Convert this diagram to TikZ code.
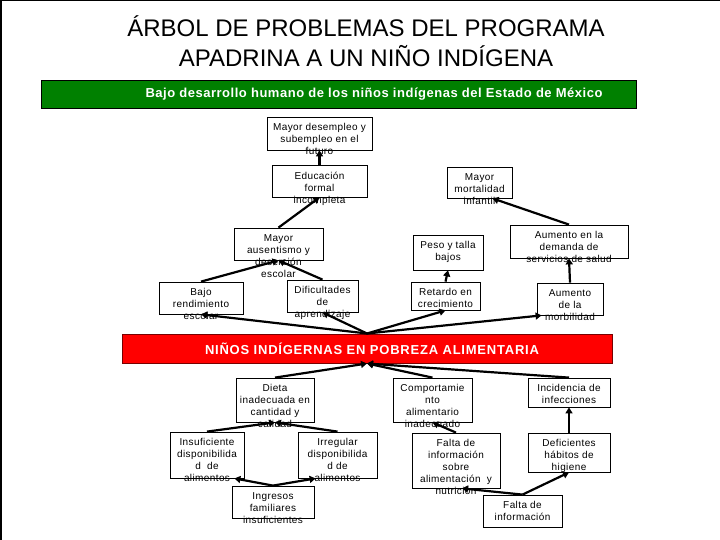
\documentclass[tikz,border=0pt]{standalone}
\usepackage{fontspec}
\setmainfont{Liberation Sans}
\usetikzlibrary{arrows.meta,calc}
\definecolor{bargreen}{RGB}{0,128,0}
\definecolor{barred}{RGB}{255,0,0}
\definecolor{barredline}{RGB}{120,0,0}
\tikzset{
  pbox/.style={draw=black, line width=0.8pt, inner sep=0pt, fill=white},
  ptext/.style={anchor=north, align=center, inner sep=0pt, font=\fontsize{10}{12}\selectfont\addfontfeature{LetterSpace=4}},
  conn/.style={line width=2.2pt, -{Triangle[length=6pt,width=7pt]}},
  bartext/.style={inner sep=0pt, text=white, font=\fontsize{13}{15}\selectfont\bfseries},
}
\newcommand\pbx[6]{%
  \node[pbox, minimum width={(#4-#2)*1pt}, minimum height={(#5-#3)*1pt}] (#1) at ({(#2+#4)/2},{(#3+#5)/2}) {};
  \node[ptext] (#1t) at ({(#2+#4)/2},{#3+6.5}) {#6};
}
\begin{document}
\begin{tikzpicture}[x=1pt,y=-1pt]
\useasboundingbox (0,0) rectangle (720,540);
\draw[line width=1.5pt] (0.75,540) -- (0.75,0.75) -- (720,0.75);
% title
\node[align=center, inner sep=0pt, font=\fontsize{24}{30}\selectfont] (title) at (366,41) {ÁRBOL DE PROBLEMAS DEL PROGRAMA\\APADRINA A UN NIÑO INDÍGENA};
% green bar
\node[draw=black, line width=0.8pt, fill=bargreen, minimum width=595pt, minimum height=28pt, inner sep=0pt] (effect) at (338.5,94) {};
\node[bartext] (effectt) at (374,94) {\addfontfeature{LetterSpace=4}Bajo desarrollo humano de los niños indígenas del Estado de México};
% red bar
\node[draw=barredline, line width=1pt, fill=barred, minimum width=490pt, minimum height=29pt, inner sep=0pt] (core) at (367,348.5) {};
\node[bartext] (coret) at (372,348.5) {\addfontfeature{LetterSpace=6}NIÑOS INDÍGERNAS EN POBREZA ALIMENTARIA};
% boxes
\pbx{desemp}{267}{117}{372}{150}{Mayor desempleo y\\subempleo en el\\futuro}
\pbx{educ}{272}{165}{367}{197}{Educación\\formal\\incompleta}
\pbx{ausent}{234}{228}{323}{260}{Mayor\\ausentismo y\\deserción\\escolar}
\pbx{bajo}{159}{282}{243}{314}{Bajo\\rendimiento\\escolar}
\pbx{dific}{287}{280}{358}{312}{Dificultades\\de\\aprendizaje}
\pbx{mort}{447}{167}{512}{198}{Mayor\\mortalidad\\infantil}
\pbx{demanda}{510}{225}{628}{258}{Aumento en la\\demanda de\\servicios de salud}
\pbx{peso}{413}{235}{483}{270}{Peso y talla\\bajos}
\pbx{retardo}{411}{282}{480}{310}{Retardo en\\crecimiento}
\pbx{morb}{537}{283}{603}{315}{Aumento\\de la\\morbilidad}
\pbx{dieta}{236}{378}{314}{422}{Dieta\\inadecuada en\\cantidad y\\calidad}
\pbx{comp}{393}{378}{472}{422}{Comportamie\\nto\\alimentario\\inadecuado}
\pbx{incid}{528}{378}{610}{407}{Incidencia de\\infecciones}
\pbx{insuf}{170}{432}{244}{478}{Insuficiente\\disponibilida\\d\ \ de\\alimentos}
\pbx{irreg}{298}{432}{377}{478}{Irregular\\disponibilida\\d de\\alimentos}
\pbx{ingresos}{232}{486}{314}{518}{Ingresos\\familiares\\insuficientes}
\pbx{faltas}{412}{433}{500}{488}{Falta de\\información\\sobre\\alimentación\ \ y\\nutrición}
\pbx{defic}{528}{433}{610}{472}{Deficientes\\hábitos de\\higiene}
\pbx{faltab}{483}{495}{562}{527}{Falta de\\información}
% connectors
\draw[conn] (educ.north) -- (desemp.south);
\draw[conn] (ausent.north) -- (educ.south);
\draw[conn] (bajo.north) -- (ausent.south);
\draw[conn] (dific.north) -- (ausent.south);
\draw[conn] (core.north) -- (bajo.south);
\draw[conn] (core.north) -- (dific.south);
\draw[conn] (core.north) -- (retardo.south);
\draw[conn] (core.north) -- ([xshift=5pt]morb.south west);
\draw[conn] (retardo.north) -- (peso.south);
\draw[conn] (morb.north) -- (demanda.south);
\draw[conn] (demanda.north) -- ([xshift=13pt]mort.south);
\draw[conn] (dieta.north) -- (core.south);
\draw[conn] (comp.north) -- (core.south);
\draw[conn] (incid.north) -- (core.south);
\draw[conn] (insuf.north) -- (dieta.south);
\draw[conn] (irreg.north) -- (dieta.south);
\draw[conn] (ingresos.north) -- ([xshift=-10pt]insuf.south east);
\draw[conn] (ingresos.north) -- ([xshift=18pt]irreg.south west);
\draw[conn] (faltas.north) -- (comp.south);
\draw[conn] (defic.north) -- (incid.south);
\draw[conn] (faltab.north) -- ([xshift=6pt]faltas.south);
\draw[conn] (faltab.north) -- (defic.south);
\end{tikzpicture}
\end{document}
